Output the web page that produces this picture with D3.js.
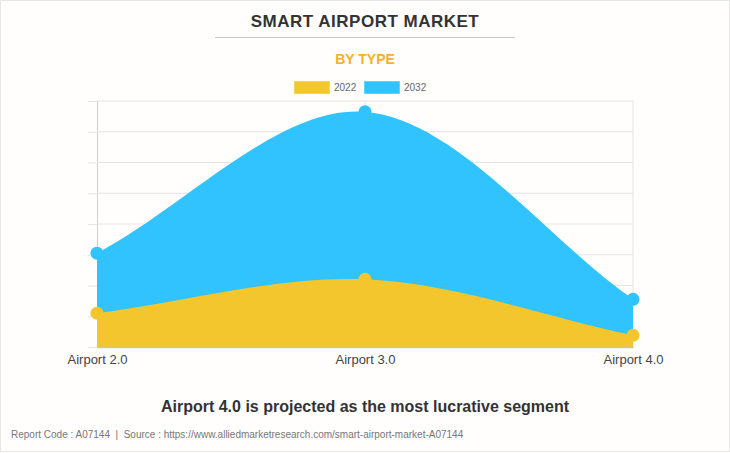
<!DOCTYPE html>
<html>
<head>
<meta charset="utf-8">
<script src="https://cdn.jsdelivr.net/npm/d3@7"></script>
<style>
  html, body { margin: 0; padding: 0; background: #fffefd; }
  svg { display: block; }
  text { font-family: "Liberation Sans", Arial, sans-serif; white-space: pre; }
</style>
</head>
<body>
<svg id="chart" width="730" height="453"></svg>
<script>
// values, the y axis has no labels so units are a guess
var categories = ['Airport 2.0', 'Airport 3.0', 'Airport 4.0'];
var years = ['2022', '2032'];
var values2022 = [1.1, 2.2, 0.38];
var values2032 = [3.05, 7.65, 1.55];
var yTicks = [0, 1, 2, 3, 4, 5, 6, 7, 8];

var colors = { '2022': '#f4c62d', '2032': '#31c3fe' };

var svg = d3.select('#chart');

// page frame
svg.append('rect')
    .attr('x', 0.5).attr('y', 0.5)
    .attr('width', 729).attr('height', 451)
    .attr('fill', '#fffefd')
    .attr('stroke', '#e6e6e6')
    .attr('stroke-width', 1);

svg.append('text')
    .attr('x', 365).attr('y', 27)
    .attr('text-anchor', 'middle')
    .attr('font-size', 17)
    .attr('font-weight', 'bold')
    .attr('letter-spacing', 0.5)
    .attr('fill', '#333333')
    .text('SMART AIRPORT MARKET');

svg.append('line')
    .attr('x1', 215).attr('x2', 515)
    .attr('y1', 37.5).attr('y2', 37.5)
    .attr('stroke', '#c8c8c8');

svg.append('text')
    .attr('x', 365).attr('y', 64)
    .attr('text-anchor', 'middle')
    .attr('font-size', 14)
    .attr('font-weight', 'bold')
    .attr('fill', '#fcaf26')
    .text('BY TYPE');

// legend
var legendX = d3.scaleOrdinal().domain(years).range([294, 364]);

var legend = svg.selectAll('.legend')
    .data(years)
    .enter()
    .append('g')
    .attr('class', 'legend')
    .attr('transform', function (d) {
        return 'translate(' + legendX(d) + ',81)';
    });

legend.append('rect')
    .attr('width', 36)
    .attr('height', 13)
    .attr('fill', function (d) { return colors[d]; })
    .attr('stroke', '#ffffff')
    .attr('stroke-opacity', 0.5);

legend.append('text')
    .attr('x', 40).attr('y', 10)
    .attr('font-size', 10)
    .attr('fill', '#666666')
    .text(function (d) { return d; });

// plot
var x = d3.scalePoint().domain(categories).range([97, 633]);
var y = d3.scaleLinear().domain([0, 8]).range([347, 101]);

var yAxis = d3.axisLeft(y)
    .tickValues(yTicks)
    .tickSize(9)
    .tickFormat('');

var yGroup = svg.append('g')
    .attr('transform', 'translate(97,0)')
    .call(yAxis);
yGroup.selectAll('line').attr('stroke', '#e4e4e4');
yGroup.select('.domain').attr('stroke', '#d0d0d0');

// grid
svg.append('g')
    .selectAll('line')
    .data(yTicks)
    .enter()
    .append('line')
    .attr('x1', 97).attr('x2', 633)
    .attr('y1', function (d) { return y(d); })
    .attr('y2', function (d) { return y(d); })
    .attr('stroke', '#e4e4e4');

svg.append('g')
    .selectAll('line')
    .data(categories.slice(1))
    .enter()
    .append('line')
    .attr('x1', function (d) { return x(d); })
    .attr('x2', function (d) { return x(d); })
    .attr('y1', 101).attr('y2', 347)
    .attr('stroke', '#e4e4e4');

// same spline as the original chart: control points sit on the end points,
// inner ones are pulled along prev->next by distance share * tension
function splineCurve(context) {
    var pts;
    var areaLine = false;
    var tension = 0.33;
    return {
        areaStart: function () { areaLine = false; },
        areaEnd: function () { context.closePath(); },
        lineStart: function () { pts = []; },
        point: function (px, py) { pts.push([px, py]); },
        lineEnd: function () {
            function controls(i) {
                var p0 = pts[Math.max(i - 1, 0)], p1 = pts[i], p2 = pts[Math.min(i + 1, pts.length - 1)];
                var d01 = Math.hypot(p1[0] - p0[0], p1[1] - p0[1]);
                var d12 = Math.hypot(p2[0] - p1[0], p2[1] - p1[1]);
                var fa = tension * d01 / (d01 + d12);
                var fb = tension * d12 / (d01 + d12);
                return {
                    prev: [p1[0] - fa * (p2[0] - p0[0]), p1[1] - fa * (p2[1] - p0[1])],
                    next: [p1[0] + fb * (p2[0] - p0[0]), p1[1] + fb * (p2[1] - p0[1])]
                };
            }
            if (areaLine) context.lineTo(pts[0][0], pts[0][1]);
            else context.moveTo(pts[0][0], pts[0][1]);
            for (var i = 1; i < pts.length; i++) {
                var a = controls(i - 1), b = controls(i);
                context.bezierCurveTo(a.next[0], a.next[1], b.prev[0], b.prev[1], pts[i][0], pts[i][1]);
            }
            areaLine = true;
        }
    };
}

var area = d3.area()
    .x(function (d, i) { return x(categories[i]); })
    .y0(y(0))
    .y1(function (d) { return y(d); })
    .curve(splineCurve);

function drawSeries(year, vals) {
    svg.append('path')
        .datum(vals)
        .attr('fill', colors[year])
        .attr('d', area);

    svg.append('g')
        .selectAll('circle')
        .data(vals)
        .enter()
        .append('circle')
        .attr('cx', function (d, i) { return x(categories[i]); })
        .attr('cy', function (d) { return y(d); })
        .attr('r', 6.5)
        .attr('fill', colors[year]);
}

drawSeries('2032', values2032);
drawSeries('2022', values2022);

// x axis
var xAxis = d3.axisBottom(x).tickSize(0).tickPadding(8);

var xGroup = svg.append('g')
    .attr('transform', 'translate(0,347)')
    .call(xAxis);
xGroup.select('.domain').attr('stroke', '#c4c4c4').attr('stroke-width', 1.5);
xGroup.selectAll('text')
    .attr('font-family', '"Liberation Sans", Arial, sans-serif')
    .attr('font-size', 13)
    .attr('fill', '#444444');

svg.append('text')
    .attr('x', 365).attr('y', 412)
    .attr('text-anchor', 'middle')
    .attr('font-size', 16)
    .attr('font-weight', 'bold')
    .attr('fill', '#333333')
    .text('Airport 4.0 is projected as the most lucrative segment');

svg.append('text')
    .attr('x', 11).attr('y', 438)
    .attr('font-size', 10)
    .attr('fill', '#777777')
    .text('Report Code : A07144  |  Source : https://www.alliedmarketresearch.com/smart-airport-market-A07144');
</script>
</body>
</html>
